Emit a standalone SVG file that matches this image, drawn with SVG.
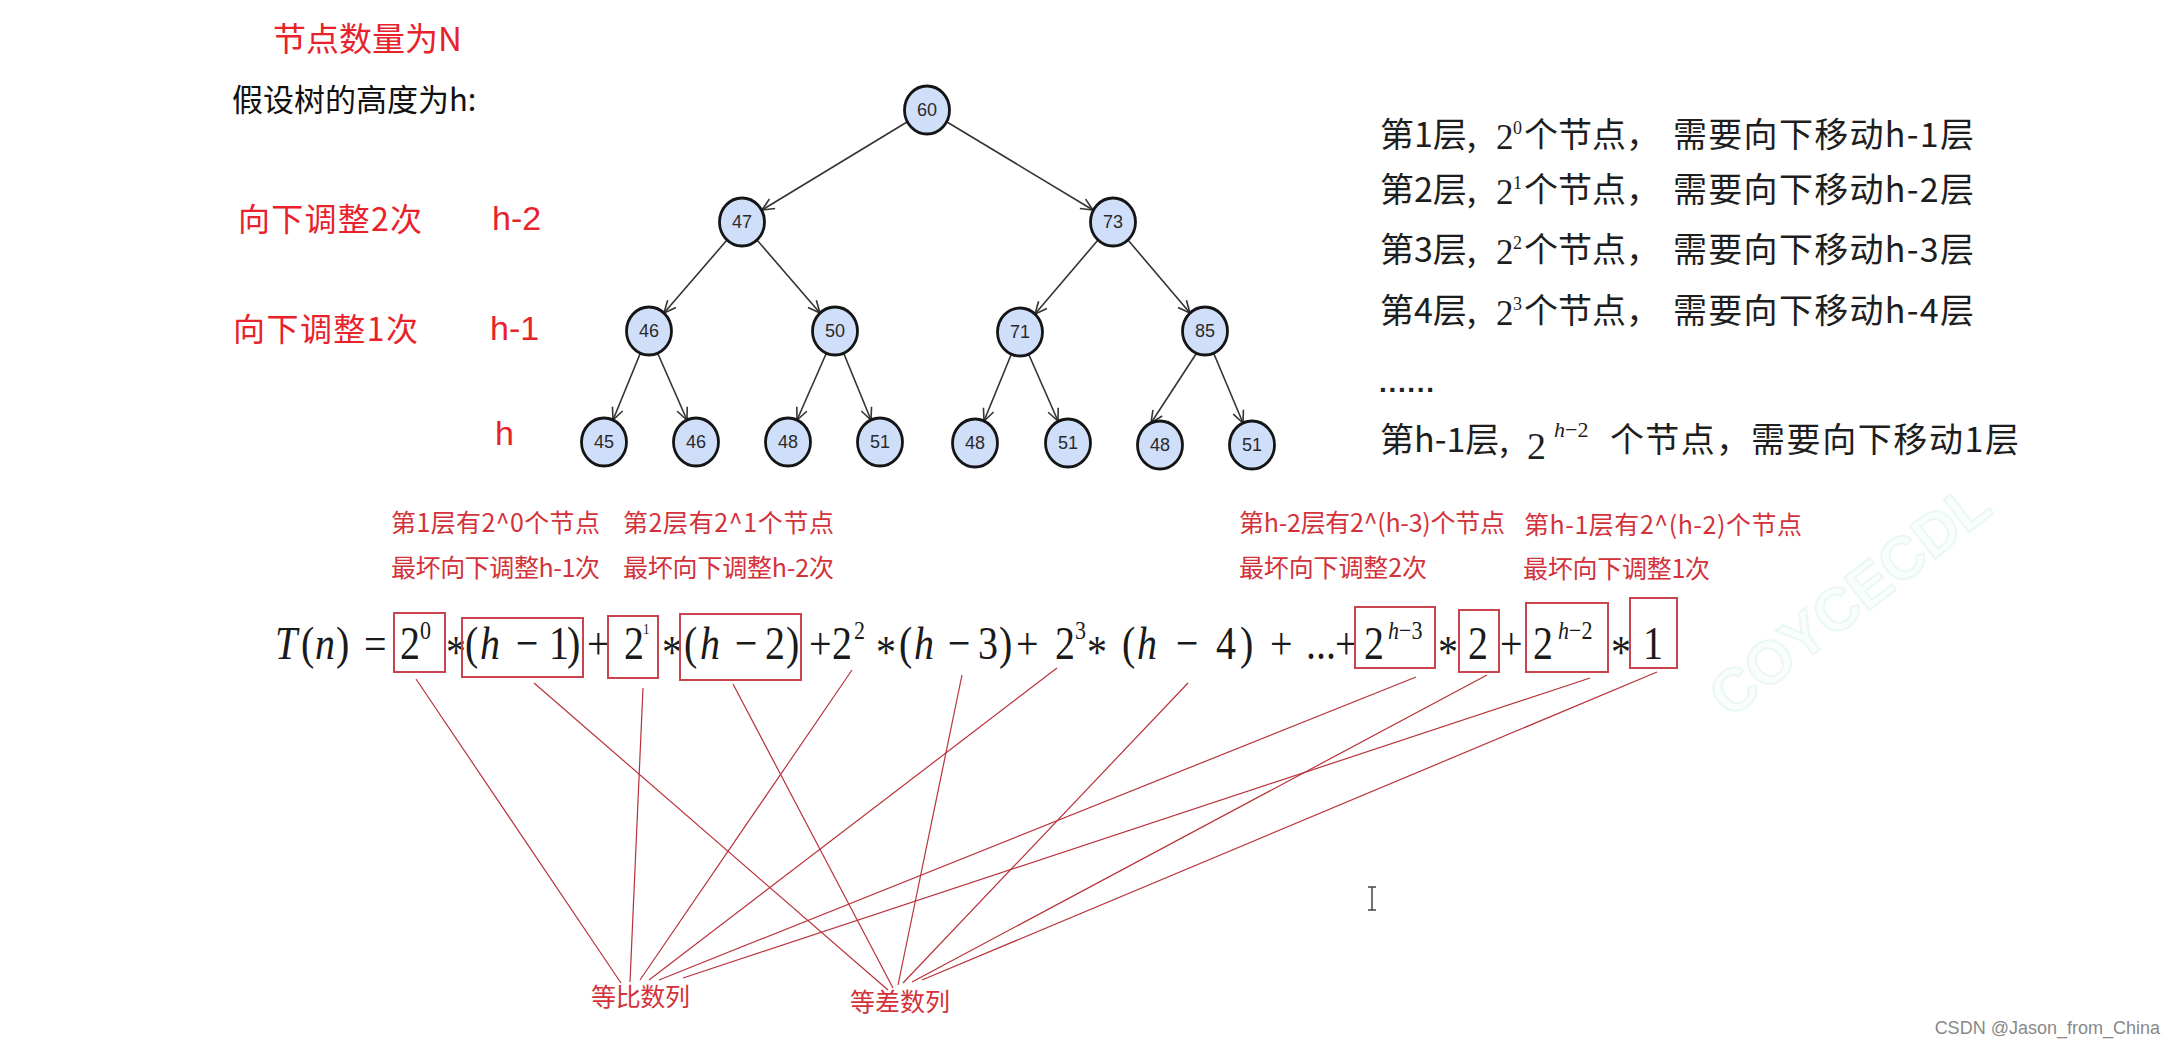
<svg xmlns="http://www.w3.org/2000/svg" width="2176" height="1048" viewBox="0 0 2176 1048">
<defs>
<style>
.node ellipse{fill:#cfdff9;stroke:#151515;stroke-width:2.8}
.node text{font-family:"Liberation Sans",Arial,sans-serif;font-size:18px;fill:#2a2a2a;text-anchor:middle}
.edge{stroke:#333;stroke-width:1.6;fill:none;marker-end:url(#arr)}
.red{font-family:"Noto Sans CJK SC","Liberation Sans",sans-serif;fill:#e8222b}
.redh{font-family:"Liberation Sans","Noto Sans CJK SC",sans-serif;fill:#e8222b;font-size:34px}
.ann{font-family:"Noto Sans CJK SC","Liberation Sans",sans-serif;fill:#d3323a;font-size:25px}
.rt{font-family:"Noto Sans CJK SC","Liberation Sans",sans-serif;fill:#1e1e1e;font-size:34px}
.ser{font-family:"Liberation Serif","Times New Roman",serif;fill:#1e1e1e}
.fm{font-family:"Liberation Serif","Times New Roman",serif;fill:#1a1a1a;font-size:40px}
.sup{font-family:"Liberation Serif","Times New Roman",serif;fill:#1a1a1a;font-size:22px}
.it{font-style:italic}
.box{fill:none;stroke:#c8454d;stroke-width:2}
.ln{stroke:#b8323a;stroke-width:1.2;fill:none}
</style>
<marker id="arr" markerWidth="14" markerHeight="14" refX="13" refY="7" orient="auto" markerUnits="userSpaceOnUse">
<path d="M1,1.5 L13,7 L1,12.5" fill="none" stroke="#333" stroke-width="1.6"/>
</marker>
</defs>
<rect width="2176" height="1048" fill="#ffffff"/>

<!-- watermark -->
<text x="1850" y="620" transform="rotate(-38 1850 600)" font-family="Liberation Sans,Arial,sans-serif" font-weight="bold" font-size="60" text-anchor="middle" fill="#f9fdfb" stroke="#e9f9f0" stroke-width="2">COYCECDL</text>

<!-- left labels -->
<g id="labels-left">
<text class="red" x="273" y="51" font-size="33">节点数量为N</text>
<text x="232" y="111" font-family="Noto Sans CJK SC,Liberation Sans,sans-serif" font-size="31" fill="#111">假设树的高度为h:</text>
<text class="red" x="238" y="231" font-size="32" textLength="184">向下调整2次</text>
<text class="redh" x="492" y="230">h-2</text>
<text class="red" x="233" y="341" font-size="32" textLength="185">向下调整1次</text>
<text class="redh" x="490" y="340">h-1</text>
<text class="redh" x="495" y="445">h</text>
</g>

<!-- tree edges -->
<g id="tree-edges">
<line class="edge" x1="907" y1="122" x2="762" y2="210"/>
<line class="edge" x1="947" y1="122" x2="1093" y2="210"/>
<line class="edge" x1="727" y1="240" x2="664" y2="313"/>
<line class="edge" x1="757" y1="240" x2="820" y2="313"/>
<line class="edge" x1="1098" y1="240" x2="1035" y2="314"/>
<line class="edge" x1="1128" y1="240" x2="1190" y2="313"/>
<line class="edge" x1="640" y1="354" x2="613" y2="420"/>
<line class="edge" x1="658" y1="354" x2="687" y2="420"/>
<line class="edge" x1="826" y1="354" x2="797" y2="420"/>
<line class="edge" x1="844" y1="354" x2="871" y2="420"/>
<line class="edge" x1="1011" y1="355" x2="984" y2="421"/>
<line class="edge" x1="1029" y1="355" x2="1058" y2="421"/>
<line class="edge" x1="1196" y1="354" x2="1151" y2="423"/>
<line class="edge" x1="1214" y1="354" x2="1243" y2="423"/>
</g>

<!-- tree nodes -->
<g id="n60" class="node"><ellipse cx="927" cy="110" rx="22.5" ry="24"/><text x="927" y="116">60</text></g>
<g id="n47" class="node"><ellipse cx="742" cy="222" rx="22.5" ry="24"/><text x="742" y="228">47</text></g>
<g id="n73" class="node"><ellipse cx="1113" cy="222" rx="22.5" ry="24"/><text x="1113" y="228">73</text></g>
<g id="n46" class="node"><ellipse cx="649" cy="331" rx="22.5" ry="24"/><text x="649" y="337">46</text></g>
<g id="n50" class="node"><ellipse cx="835" cy="331" rx="22.5" ry="24"/><text x="835" y="337">50</text></g>
<g id="n71" class="node"><ellipse cx="1020" cy="332" rx="22.5" ry="24"/><text x="1020" y="338">71</text></g>
<g id="n85" class="node"><ellipse cx="1205" cy="331" rx="22.5" ry="24"/><text x="1205" y="337">85</text></g>
<g id="n45" class="node"><ellipse cx="604" cy="442" rx="22.5" ry="24"/><text x="604" y="448">45</text></g>
<g id="n46b" class="node"><ellipse cx="696" cy="442" rx="22.5" ry="24"/><text x="696" y="448">46</text></g>
<g id="n48a" class="node"><ellipse cx="788" cy="442" rx="22.5" ry="24"/><text x="788" y="448">48</text></g>
<g id="n51a" class="node"><ellipse cx="880" cy="442" rx="22.5" ry="24"/><text x="880" y="448">51</text></g>
<g id="n48b" class="node"><ellipse cx="975" cy="443" rx="22.5" ry="24"/><text x="975" y="449">48</text></g>
<g id="n51b" class="node"><ellipse cx="1068" cy="443" rx="22.5" ry="24"/><text x="1068" y="449">51</text></g>
<g id="n48c" class="node"><ellipse cx="1160" cy="445" rx="22.5" ry="24"/><text x="1160" y="451">48</text></g>
<g id="n51c" class="node"><ellipse cx="1252" cy="445" rx="22.5" ry="24"/><text x="1252" y="451">51</text></g>

<!-- right side explanation -->
<g id="levels">
<text class="rt" x="1380" y="147">第1层,</text>
<text class="ser" x="1496" y="149" font-size="35">2</text>
<text class="ser" x="1513" y="134" font-size="18">0</text>
<text class="rt" x="1524" y="147">个节点，</text>
<text class="rt" x="1673" y="147" textLength="301">需要向下移动h-1层</text>

<text class="rt" x="1380" y="202">第2层,</text>
<text class="ser" x="1496" y="204" font-size="35">2</text>
<text class="ser" x="1513" y="189" font-size="18">1</text>
<text class="rt" x="1524" y="202">个节点，</text>
<text class="rt" x="1673" y="202" textLength="301">需要向下移动h-2层</text>

<text class="rt" x="1380" y="262">第3层,</text>
<text class="ser" x="1496" y="264" font-size="35">2</text>
<text class="ser" x="1513" y="249" font-size="18">2</text>
<text class="rt" x="1524" y="262">个节点，</text>
<text class="rt" x="1673" y="262" textLength="301">需要向下移动h-3层</text>

<text class="rt" x="1380" y="323">第4层,</text>
<text class="ser" x="1496" y="325" font-size="35">2</text>
<text class="ser" x="1513" y="310" font-size="18">3</text>
<text class="rt" x="1524" y="323">个节点，</text>
<text class="rt" x="1673" y="323" textLength="301">需要向下移动h-4层</text>

<text x="1379" y="392" font-family="Liberation Sans,Arial,sans-serif" font-weight="bold" font-size="28" fill="#222" textLength="55">......</text>

<text class="rt" x="1380" y="452">第h-1层,</text>
<text class="ser" x="1527" y="459" font-size="38">2</text>
<text class="ser" x="1554" y="437" font-size="22"><tspan class="it">h</tspan>−2</text>
<text class="rt" x="1610" y="452" textLength="140">个节点，</text>
<text class="rt" x="1751" y="452" textLength="268">需要向下移动1层</text>
</g>

<!-- annotations above formula -->
<g id="annotations">
<text class="ann" x="391" y="532" textLength="209">第1层有2^0个节点</text>
<text class="ann" x="623" y="532" textLength="211">第2层有2^1个节点</text>
<text class="ann" x="391" y="577" textLength="209">最坏向下调整h-1次</text>
<text class="ann" x="623" y="577" textLength="211">最坏向下调整h-2次</text>
<text class="ann" x="1239" y="532" textLength="266">第h-2层有2^(h-3)个节点</text>
<text class="ann" x="1524" y="534" textLength="278">第h-1层有2^(h-2)个节点</text>
<text class="ann" x="1239" y="577" textLength="188">最坏向下调整2次</text>
<text class="ann" x="1523" y="578" textLength="187">最坏向下调整1次</text>
</g>

<!-- formula -->
<g id="formula">
<g transform="translate(0,659) scale(1,1.18)">
<text class="fm" y="0"><tspan x="275" class="it">T</tspan><tspan x="301">(</tspan><tspan x="315" class="it">n</tspan><tspan x="336">)</tspan><tspan x="364">=</tspan><tspan x="400">2</tspan><tspan x="465">(</tspan><tspan x="480" class="it">h</tspan><tspan x="516">−</tspan><tspan x="549">1</tspan><tspan x="567">)</tspan><tspan x="587">+</tspan><tspan x="624">2</tspan><tspan x="684">(</tspan><tspan x="700" class="it">h</tspan><tspan x="735">−</tspan><tspan x="765">2</tspan><tspan x="786">)</tspan><tspan x="809">+</tspan><tspan x="832">2</tspan><tspan x="899">(</tspan><tspan x="914" class="it">h</tspan><tspan x="948">−</tspan><tspan x="978">3</tspan><tspan x="999">)</tspan><tspan x="1016">+</tspan><tspan x="1055">2</tspan><tspan x="1122">(</tspan><tspan x="1137" class="it">h</tspan><tspan x="1176">−</tspan><tspan x="1216">4</tspan><tspan x="1240">)</tspan><tspan x="1270">+</tspan><tspan x="1306">...</tspan><tspan x="1335">+</tspan><tspan x="1364">2</tspan><tspan x="1468">2</tspan><tspan x="1500">+</tspan><tspan x="1533">2</tspan><tspan x="1643">1</tspan></text>
<text class="fm" y="8"><tspan x="446">*</tspan><tspan x="662">*</tspan><tspan x="876">*</tspan><tspan x="1087">*</tspan><tspan x="1438">*</tspan><tspan x="1611">*</tspan></text>
<text class="sup" x="420" y="-17">0</text>
<text class="sup" x="643" y="-21" style="font-size:13px">1</text>
<text class="sup" x="854" y="-17">2</text>
<text class="sup" x="1075" y="-17">3</text>
<text class="sup" x="1388" y="-17"><tspan class="it">h</tspan>−3</text>
<text class="sup" x="1558" y="-17"><tspan class="it">h</tspan>−2</text>
</g>
<rect class="box" x="394" y="613" width="51" height="59"/>
<rect class="box" x="462" y="618" width="121" height="59"/>
<rect class="box" x="608" y="616" width="50" height="62"/>
<rect class="box" x="680" y="614" width="121" height="66"/>
<rect class="box" x="1355" y="607" width="80" height="61"/>
<rect class="box" x="1459" y="610" width="40" height="62"/>
<rect class="box" x="1526" y="603" width="82" height="69"/>
<rect class="box" x="1630" y="598" width="47" height="70"/>
</g>

<!-- connectors to series labels -->
<g id="connectors">
<line class="ln" x1="416" y1="679" x2="621" y2="983"/>
<line class="ln" x1="643" y1="688" x2="630" y2="982"/>
<line class="ln" x1="852" y1="670" x2="640" y2="980"/>
<line class="ln" x1="1057" y1="668" x2="649" y2="980"/>
<line class="ln" x1="1416" y1="677" x2="659" y2="980"/>
<line class="ln" x1="1590" y1="678" x2="683" y2="978"/>
<line class="ln" x1="534" y1="683" x2="888" y2="990"/>
<line class="ln" x1="733" y1="684" x2="893" y2="988"/>
<line class="ln" x1="962" y1="675" x2="898" y2="985"/>
<line class="ln" x1="1188" y1="683" x2="903" y2="983"/>
<line class="ln" x1="1487" y1="675" x2="912" y2="982"/>
<line class="ln" x1="1657" y1="672" x2="922" y2="980"/>
</g>

<g id="geo"><text class="ann" x="591" y="1006" textLength="99">等比数列</text></g>
<g id="ari"><text class="ann" x="850" y="1011" textLength="100">等差数列</text></g>

<!-- text cursor -->
<path d="M1368,887 H1376 M1372,887 V910 M1368,910 H1376" stroke="#444" stroke-width="1.5" fill="none"/>

<text x="2160" y="1034" font-family="Liberation Sans,Arial,sans-serif" font-size="18" fill="#888" text-anchor="end">CSDN @Jason_from_China</text>
</svg>
